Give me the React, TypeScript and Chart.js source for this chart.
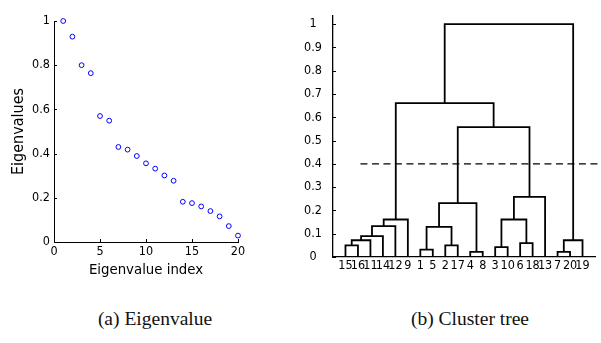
import React, { useEffect, useRef } from 'react';
import { Chart, registerables } from 'chart.js';

Chart.register(...registerables);

// ---------- (a) Eigenvalue data ----------
const eigIndex = [1, 2, 3, 4, 5, 6, 7, 8, 9, 10, 11, 12, 13, 14, 15, 16, 17, 18, 19, 20];
const eigValues = [1.0, 0.929, 0.8, 0.764, 0.57, 0.549, 0.43, 0.418, 0.389, 0.356, 0.332, 0.301, 0.277, 0.182, 0.176, 0.161, 0.14, 0.116, 0.072, 0.029];
const eigXTicks = [0, 5, 10, 15, 20];
const eigYTicks = [0, 0.2, 0.4, 0.6, 0.8, 1];
const eigYTickLabels = ['0', '0.2', '0.4', '0.6', '0.8', '1'];

// ---------- (b) Cluster tree data ----------
const leafOrder = [15, 16, 11, 14, 12, 9, 1, 5, 2, 17, 4, 8, 3, 10, 6, 18, 13, 7, 20, 19];
// linkage: node 21 + k joins linkLeft[k] and linkRight[k] at linkHeight[k]
const linkLeft = [15, 21, 22, 23, 24, 1, 2, 26, 4, 28, 3, 6, 31, 33, 30, 25, 7, 37, 36];
const linkRight = [16, 11, 14, 12, 9, 5, 17, 27, 8, 29, 10, 18, 32, 13, 34, 35, 20, 19, 38];
const linkHeight = [0.05, 0.072, 0.09, 0.133, 0.161, 0.032, 0.05, 0.129, 0.022, 0.231, 0.042, 0.06, 0.161, 0.258, 0.558, 0.661, 0.022, 0.072, 1.0];
const cutHeight = 0.4;
const treeYTicks = [0, 0.1, 0.2, 0.3, 0.4, 0.5, 0.6, 0.7, 0.8, 0.9, 1];
const treeYTickLabels = ['0', '0.1', '0.2', '0.3', '0.4', '0.5', '0.6', '0.7', '0.8', '0.9', '1'];

const COND = "'DejaVu Sans Condensed', 'Liberation Sans', Arial, sans-serif";

function inwardTicks(spec: { axis: string; values: number[]; len: number }[]) {
  return {
    id: 'inwardTicks',
    afterDraw(chart: any) {
      const ctx = chart.ctx;
      const { left, bottom } = chart.chartArea;
      ctx.save();
      ctx.strokeStyle = '#000';
      ctx.lineWidth = 1;
      for (const s of spec) {
        const scale = chart.scales[s.axis];
        for (const v of s.values) {
          const p = Math.round(scale.getPixelForValue(v)) + 0.5;
          ctx.beginPath();
          if (s.axis === 'y') {
            ctx.moveTo(left, p);
            ctx.lineTo(left + s.len, p);
          } else {
            ctx.moveTo(p, bottom);
            ctx.lineTo(p, bottom - s.len);
          }
          ctx.stroke();
        }
      }
      ctx.restore();
    },
  };
}

function eigConfig(): any {
  return {
    type: 'scatter',
    data: {
      datasets: [
        {
          data: eigIndex.map((x, i) => ({ x, y: eigValues[i] })),
          pointStyle: 'circle',
          pointRadius: 2.4,
          pointBorderWidth: 1,
          pointBorderColor: '#0000ff',
          pointBackgroundColor: 'rgba(0,0,0,0)',
          showLine: false,
          clip: false,
        },
      ],
    },
    options: {
      responsive: false,
      animation: false,
      events: [],
      layout: { padding: { left: 0, top: 21, right: 62, bottom: 0 } },
      plugins: { legend: { display: false }, tooltip: { enabled: false } },
      scales: {
        x: {
          type: 'linear',
          min: 0,
          max: 20,
          afterBuildTicks: (s: any) => { s.ticks = eigXTicks.map((v) => ({ value: v })); },
          afterFit: (s: any) => { s.height = 48; },
          grid: { display: false, drawTicks: false },
          border: { display: true, color: '#000', width: 1 },
          ticks: { autoSkip: false, maxRotation: 0, padding: 2, color: '#000', font: { family: COND, size: 12.5 } },
          title: { display: true, text: 'Eigenvalue index', color: '#000', font: { family: COND, size: 14.8 }, padding: { top: 0, bottom: 10.5 } },
        },
        y: {
          type: 'linear',
          min: 0,
          max: 1,
          afterBuildTicks: (s: any) => { s.ticks = eigYTicks.map((v) => ({ value: v })); },
          afterFit: (s: any) => { s.width = 54; },
          grid: { display: false, drawTicks: false },
          border: { display: true, color: '#000', width: 1 },
          ticks: {
            autoSkip: false,
            padding: 4,
            color: '#000',
            font: { family: COND, size: 12.5 },
            callback: (v: number) => eigYTickLabels[eigYTicks.indexOf(v)] ?? '',
          },
          title: { display: true, text: 'Eigenvalues', color: '#000', font: { family: COND, size: 16 }, padding: { top: 9.4, bottom: 0 } },
        },
      },
    },
    plugins: [inwardTicks([{ axis: 'y', values: eigYTicks, len: 3 }, { axis: 'x', values: eigXTicks, len: 3 }])],
  };
}

function treeConfig(): any {
  const nodeX: Record<number, number> = {};
  const nodeH: Record<number, number> = {};
  leafOrder.forEach((leaf, i) => { nodeX[leaf] = i + 1; nodeH[leaf] = 0; });
  const datasets: any[] = [];
  linkHeight.forEach((h, k) => {
    const a = linkLeft[k];
    const b = linkRight[k];
    const id = leafOrder.length + 1 + k;
    nodeX[id] = (nodeX[a] + nodeX[b]) / 2;
    nodeH[id] = h;
    datasets.push({
      data: [
        { x: nodeX[a], y: nodeH[a] },
        { x: nodeX[a], y: h },
        { x: nodeX[b], y: h },
        { x: nodeX[b], y: nodeH[b] },
      ],
      showLine: true,
      borderColor: '#000',
      borderWidth: 1.8,
      borderJoinStyle: 'miter',
      pointRadius: 0,
      clip: false,
    });
  });
  datasets.push({
    data: [
      { x: 2.2, y: cutHeight },
      { x: 21.6, y: cutHeight },
    ],
    showLine: true,
    borderColor: '#000',
    borderWidth: 1.3,
    borderDash: [7, 4.5],
    pointRadius: 0,
    clip: false,
  });
  return {
    type: 'scatter',
    data: { datasets },
    options: {
      responsive: false,
      animation: false,
      events: [],
      layout: { padding: { left: 0, top: 16, right: 6, bottom: 0 } },
      plugins: { legend: { display: false }, tooltip: { enabled: false } },
      scales: {
        x: {
          type: 'linear',
          min: 0,
          max: leafOrder.length + 1,
          afterBuildTicks: (s: any) => { s.ticks = leafOrder.map((_, i) => ({ value: i + 1 })); },
          afterFit: (s: any) => { s.height = 23; },
          grid: { display: false, drawTicks: false },
          border: { display: true, color: '#000', width: 1.3 },
          ticks: {
            autoSkip: false,
            maxRotation: 0,
            padding: 1,
            color: '#000',
            font: { family: COND, size: 12.5 },
            callback: (v: number) => String(leafOrder[v - 1] ?? ''),
          },
        },
        y: {
          type: 'linear',
          min: 0,
          max: 1.035,
          afterBuildTicks: (s: any) => { s.ticks = treeYTicks.map((v) => ({ value: v })); },
          afterFit: (s: any) => { s.width = 33; },
          grid: { display: false, drawTicks: true, tickLength: 8 },
          border: { display: true, color: '#000', width: 1.3 },
          ticks: {
            autoSkip: false,
            crossAlign: 'center',
            color: '#000',
            font: { family: COND, size: 12.5 },
            callback: (v: number) => treeYTickLabels[treeYTicks.indexOf(v)] ?? '',
          },
        },
      },
    },
    plugins: [inwardTicks([{ axis: 'y', values: treeYTicks, len: 3 }])],
  };
}

function ChartBox({ make, left, top, width, height }: { make: () => any; left: number; top: number; width: number; height: number }) {
  const ref = useRef<HTMLCanvasElement>(null);
  useEffect(() => {
    const chart = new Chart(ref.current as HTMLCanvasElement, make());
    return () => chart.destroy();
  }, []);
  return (
    <div style={{ position: 'absolute', left, top, width, height }}>
      <canvas ref={ref} width={width} height={height} style={{ display: 'block', width, height }} />
    </div>
  );
}

const captionStyle: React.CSSProperties = {
  position: 'absolute',
  fontFamily: "'Liberation Serif', 'Times New Roman', serif",
  fontSize: 19.5,
  lineHeight: '20px',
  color: '#111',
  whiteSpace: 'nowrap',
  textAlign: 'center',
};

export default function App() {
  return (
    <div style={{ position: 'absolute', left: 0, top: 0, width: 601, height: 343, background: '#fff', overflow: 'hidden' }}>
      <ChartBox make={eigConfig} left={0} top={0} width={300} height={290} />
      <ChartBox make={treeConfig} left={300} top={0} width={301} height={280} />
      <div style={{ ...captionStyle, left: 55, width: 200, top: 309 }}>(a) Eigenvalue</div>
      <div style={{ ...captionStyle, left: 370, width: 200, top: 309 }}>(b) Cluster tree</div>
    </div>
  );
}
